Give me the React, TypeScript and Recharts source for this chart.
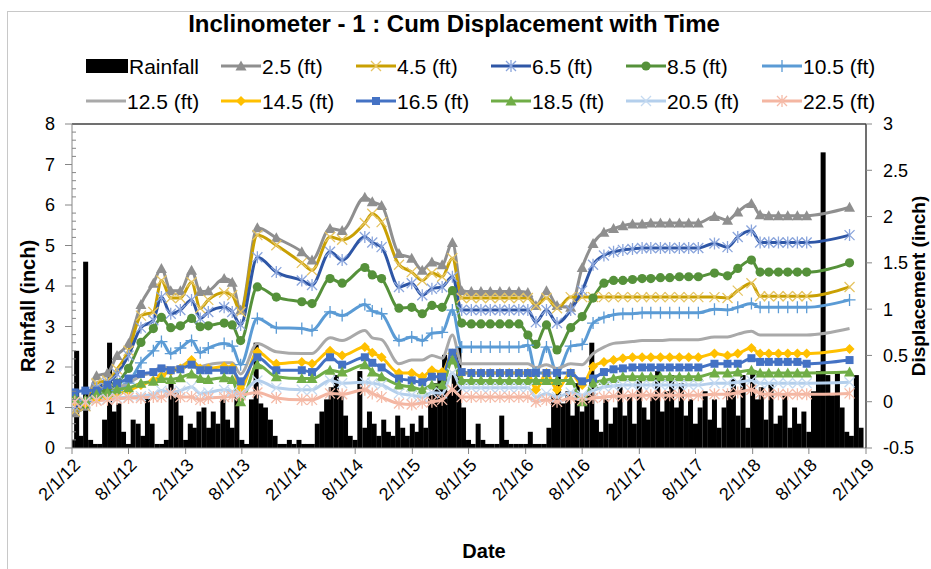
import React from 'react';
import { ComposedChart, Bar, Line, XAxis, YAxis, ReferenceLine } from 'recharts';

const FONT = '"Liberation Sans", Arial, Helvetica, sans-serif';

const tickLabels = ['2/1/12', '8/1/12', '2/1/13', '8/1/13', '2/1/14', '8/1/14', '2/1/15', '8/1/15',
    '2/1/16', '8/1/16', '2/1/17', '8/1/17', '2/1/18', '8/1/18', '2/1/19'];
const leftTicks = [0, 1, 2, 3, 4, 5, 6, 7, 8];
const rightTicks = [-0.5, 0, 0.5, 1, 1.5, 2, 2.5, 3];

// rainfall (inch), read on the 1st and the 16th of every month from 2/1/12
const rainfall = [
    0.2, 2.4, 0.3, 4.6, 0.2, 0.1, 0.1, 0.7, 2.6, 0.9,
    1.1, 0.4, 0.1, 0.7, 0.6, 0.3, 1.3, 0.6, 0.1, 0.1,
    0.2, 1.6, 1.4, 0.8, 0.2, 0.6, 0.5, 0.9, 1.0, 0.5,
    0.9, 0.6, 1.2, 0.7, 0.5, 1.5, 0.2, 0.1, 1.2, 2.6,
    1.1, 1.0, 0.7, 0.3, 0.1, 0.1, 0.2, 0.1, 0.2, 0.1,
    0.1, 0.1, 0.6, 0.9, 1.2, 1.5, 1.8, 1.3, 0.8, 0.3,
    0.2, 1.9, 0.5, 0.9, 0.6, 0.3, 0.7, 0.4, 0.3, 0.8,
    0.5, 0.3, 0.6, 0.4, 0.8, 0.5, 1.3, 1.6, 1.9, 2.3,
    1.4, 1.8, 2.5, 1.0, 0.2, 0.1, 0.6, 0.2, 0.1, 0.1,
    0.1, 0.8, 0.2, 0.1, 0.1, 0.1, 0.1, 0.4, 0.1, 0.1,
    0.1, 0.5, 1.3, 1.8, 1.1, 1.4, 0.8, 1.6, 0.9, 1.3,
    2.6, 0.7, 0.4, 1.2, 0.6, 1.0, 1.5, 0.8, 1.3, 0.6,
    1.7, 1.0, 0.7, 1.3, 1.9, 0.9, 1.4, 1.8, 1.0, 1.6,
    0.8, 1.2, 0.6, 1.0, 1.4, 0.7, 1.2, 0.5, 1.0, 1.4,
    1.7, 0.8, 1.8, 0.5, 1.9, 1.2, 1.5, 0.7, 1.6, 0.6,
    0.8, 1.3, 0.5, 1.0, 0.6, 0.9, 0.4, 1.4, 1.9, 7.3,
    1.8, 1.3, 1.9, 1.0, 0.4, 0.3, 1.8, 0.5,
];

const surveyDates = [
    '2012-02-10', '2012-03-15', '2012-04-20', '2012-05-25', '2012-06-25', '2012-08-01', '2012-09-10', '2012-10-20', '2012-11-15', '2012-12-15',
    '2013-01-15', '2013-02-20', '2013-03-20', '2013-04-15', '2013-06-05', '2013-07-01', '2013-07-28', '2013-09-20', '2013-11-20', '2014-02-10',
    '2014-03-15', '2014-05-12', '2014-06-20', '2014-09-01', '2014-09-25', '2014-10-25', '2014-12-20', '2015-01-30', '2015-03-05', '2015-04-05',
    '2015-05-08', '2015-06-10', '2015-07-10', '2015-08-10', '2015-09-10', '2015-10-10', '2015-11-10', '2015-12-10', '2016-01-10', '2016-02-08',
    '2016-03-05', '2016-04-08', '2016-05-12', '2016-06-25', '2016-08-01', '2016-09-05', '2016-10-10', '2016-11-10', '2016-12-10', '2017-01-10',
    '2017-02-10', '2017-03-10', '2017-04-10', '2017-05-10', '2017-06-10', '2017-07-10', '2017-08-10', '2017-10-01', '2017-11-12', '2017-12-15',
    '2018-01-28', '2018-02-25', '2018-03-25', '2018-04-25', '2018-05-25', '2018-06-25', '2018-07-25', '2018-12-10',
];

// cumulative displacement (inch) per depth
const d2_5 = [
    -0.12, -0.05, 0.28, 0.31, 0.5, 0.63, 1.05, 1.28, 1.44, 1.2,
    1.2, 1.42, 1.19, 1.2, 1.33, 1.29, 0.99, 1.88, 1.77, 1.62,
    1.53, 1.87, 1.85, 2.21, 2.16, 2.12, 1.6, 1.55, 1.42, 1.51,
    1.48, 1.72, 1.2, 1.19, 1.19, 1.19, 1.19, 1.19, 1.19, 1.18,
    1.04, 1.2, 1.04, 1.02, 1.45, 1.71, 1.83, 1.87, 1.9, 1.92,
    1.92, 1.93, 1.93, 1.93, 1.93, 1.93, 1.93, 2.0, 1.96, 2.05,
    2.14, 2.02, 2.01, 2.01, 2.01, 2.01, 2.01, 2.1,
];
const d4_5 = [
    -0.1, -0.05, 0.2, 0.23, 0.35, 0.55, 0.93, 0.97, 1.31, 1.12,
    1.12, 1.29, 1.01, 1.1, 1.18, 1.15, 0.97, 1.8, 1.69, 1.5,
    1.42, 1.78, 1.75, 1.93, 2.03, 1.94, 1.48, 1.4, 1.31, 1.39,
    1.35, 1.55, 1.12, 1.12, 1.12, 1.12, 1.12, 1.12, 1.12, 1.12,
    1.04, 1.12, 1.01, 1.13, 1.13, 1.13, 1.13, 1.13, 1.13, 1.13,
    1.13, 1.13, 1.13, 1.13, 1.13, 1.13, 1.13, 1.13, 1.12, 1.2,
    1.28, 1.14, 1.14, 1.14, 1.14, 1.14, 1.14, 1.24,
];
const d6_5 = [
    -0.05, -0.02, 0.15, 0.2, 0.3, 0.5, 0.8, 0.88, 1.13, 0.95,
    0.99, 1.1, 0.9, 0.97, 1.02, 0.97, 0.83, 1.56, 1.4, 1.31,
    1.26, 1.62, 1.53, 1.78, 1.72, 1.67, 1.24, 1.28, 1.15, 1.22,
    1.24, 1.35, 0.99, 0.99, 0.99, 0.99, 0.99, 0.99, 0.99, 0.99,
    0.86, 0.99, 0.85, 0.99, 1.2, 1.48, 1.58, 1.62, 1.64, 1.65,
    1.66, 1.66, 1.66, 1.66, 1.66, 1.66, 1.66, 1.71, 1.67, 1.78,
    1.85, 1.72, 1.72, 1.72, 1.72, 1.72, 1.72, 1.8,
];
const d8_5 = [
    0.03, -0.03, 0.1, 0.12, 0.2, 0.36, 0.64, 0.79, 0.91, 0.8,
    0.82, 0.9, 0.81, 0.82, 0.85, 0.83, 0.66, 1.24, 1.13, 1.08,
    1.06, 1.33, 1.28, 1.45, 1.37, 1.33, 1.01, 1.02, 0.95, 1.04,
    1.02, 1.2, 0.85, 0.84, 0.84, 0.84, 0.84, 0.84, 0.84, 0.72,
    0.62, 0.83, 0.56, 0.8, 0.92, 1.12, 1.28, 1.31, 1.31, 1.32,
    1.33, 1.33, 1.34, 1.34, 1.35, 1.35, 1.35, 1.39, 1.36, 1.44,
    1.53, 1.4, 1.4, 1.4, 1.4, 1.4, 1.4, 1.5,
];
const d10_5 = [
    0.02, 0.0, 0.05, 0.07, 0.12, 0.2, 0.42, 0.55, 0.65, 0.52,
    0.58, 0.66, 0.53, 0.58, 0.63, 0.6, 0.4, 0.9, 0.8, 0.79,
    0.77, 0.97, 0.93, 1.05, 0.98, 0.95, 0.66, 0.7, 0.66, 0.74,
    0.75, 0.99, 0.59, 0.59, 0.59, 0.59, 0.59, 0.59, 0.59, 0.61,
    0.31, 0.59, 0.31, 0.6, 0.62, 0.85, 0.91, 0.94, 0.95, 0.95,
    0.96, 0.96, 0.96, 0.96, 0.96, 0.96, 0.96, 1.0, 0.99, 1.02,
    1.06, 1.02, 1.02, 1.02, 1.02, 1.02, 1.02, 1.1,
];
const d12_5 = [
    0.0, 0.02, 0.05, 0.1, 0.15, 0.2, 0.28, 0.32, 0.38, 0.36,
    0.38, 0.44, 0.38, 0.4, 0.42, 0.42, 0.3, 0.63, 0.54, 0.52,
    0.52, 0.69, 0.66, 0.77, 0.69, 0.67, 0.41, 0.45, 0.45, 0.5,
    0.47, 0.72, 0.41, 0.41, 0.41, 0.41, 0.41, 0.41, 0.41, 0.41,
    0.37, 0.4, 0.36, 0.41, 0.4, 0.52, 0.59, 0.63, 0.64, 0.65,
    0.66, 0.66, 0.66, 0.67, 0.67, 0.67, 0.67, 0.7, 0.7, 0.73,
    0.76, 0.72, 0.72, 0.72, 0.72, 0.72, 0.72, 0.79,
];
const d14_5 = [
    0.0, -0.02, 0.03, 0.05, 0.08, 0.12, 0.18, 0.23, 0.28, 0.33,
    0.36, 0.45, 0.36, 0.36, 0.38, 0.37, 0.14, 0.54, 0.41, 0.43,
    0.41, 0.55, 0.5, 0.59, 0.53, 0.48, 0.31, 0.31, 0.27, 0.34,
    0.32, 0.52, 0.31, 0.31, 0.31, 0.31, 0.31, 0.31, 0.31, 0.31,
    0.13, 0.31, 0.13, 0.31, 0.18, 0.38, 0.43, 0.45, 0.47, 0.48,
    0.48, 0.48, 0.48, 0.48, 0.48, 0.48, 0.48, 0.52, 0.5, 0.52,
    0.58, 0.52, 0.52, 0.52, 0.52, 0.52, 0.52, 0.57,
];
const d16_5 = [
    0.1, 0.12, 0.12, 0.18, 0.2, 0.25, 0.3, 0.32, 0.36, 0.34,
    0.35, 0.4, 0.34, 0.34, 0.34, 0.34, 0.22, 0.48, 0.34, 0.34,
    0.32, 0.48, 0.4, 0.48, 0.42, 0.37, 0.25, 0.23, 0.21, 0.27,
    0.27, 0.53, 0.32, 0.31, 0.31, 0.31, 0.31, 0.31, 0.31, 0.31,
    0.31, 0.31, 0.31, 0.31, 0.22, 0.25, 0.32, 0.35, 0.36, 0.37,
    0.37, 0.37, 0.37, 0.37, 0.37, 0.37, 0.37, 0.41, 0.41, 0.41,
    0.47, 0.43, 0.43, 0.43, 0.43, 0.43, 0.41, 0.45,
];
const d18_5 = [
    0.03, 0.02, 0.08, 0.1, 0.13, 0.15, 0.2, 0.22, 0.25, 0.24,
    0.26, 0.3, 0.25, 0.24, 0.26, 0.24, 0.0, 0.4, 0.27, 0.25,
    0.25, 0.34, 0.32, 0.4, 0.32, 0.27, 0.18, 0.16, 0.13, 0.18,
    0.18, 0.45, 0.23, 0.23, 0.23, 0.23, 0.23, 0.23, 0.23, 0.23,
    0.23, 0.23, 0.23, 0.23, 0.0, 0.2, 0.23, 0.25, 0.27, 0.27,
    0.27, 0.27, 0.27, 0.27, 0.27, 0.27, 0.27, 0.31, 0.31, 0.32,
    0.34, 0.31, 0.31, 0.31, 0.31, 0.31, 0.31, 0.32,
];
const d20_5 = [
    0.0, 0.0, 0.02, 0.03, 0.04, 0.05, 0.06, 0.08, 0.12, 0.1,
    0.12, 0.16, 0.09, 0.1, 0.13, 0.11, 0.09, 0.23, 0.15, 0.13,
    0.13, 0.23, 0.2, 0.21, 0.2, 0.18, 0.09, 0.07, 0.05, 0.1,
    0.09, 0.31, 0.15, 0.15, 0.15, 0.15, 0.15, 0.15, 0.15, 0.15,
    0.05, 0.09, 0.05, 0.1, 0.07, 0.12, 0.16, 0.17, 0.18, 0.18,
    0.18, 0.18, 0.18, 0.18, 0.18, 0.18, 0.18, 0.2, 0.2, 0.21,
    0.23, 0.2, 0.2, 0.2, 0.2, 0.2, 0.2, 0.21,
];
const d22_5 = [
    0.0, -0.01, 0.01, 0.02, 0.03, 0.04, 0.04, 0.05, 0.05, 0.09,
    0.05, 0.05, 0.02, 0.04, 0.05, 0.06, 0.07, 0.1, 0.04, 0.02,
    0.02, 0.09, 0.08, 0.13, 0.09, 0.05, -0.02, -0.03, -0.01, 0.0,
    0.02, 0.13, 0.05, 0.05, 0.05, 0.05, 0.05, 0.05, 0.05, 0.05,
    0.0, 0.02, 0.0, 0.04, 0.02, 0.04, 0.05, 0.06, 0.06, 0.07,
    0.07, 0.07, 0.07, 0.07, 0.07, 0.07, 0.07, 0.08, 0.08, 0.1,
    0.13, 0.09, 0.08, 0.08, 0.08, 0.08, 0.08, 0.09,
];

type MarkerKind = 'triangle' | 'x' | 'star' | 'circle' | 'plus' | 'diamond' | 'square' | 'none';

const series: { key: string; name: string; values: number[]; color: string; marker: MarkerKind; markerColor: string }[] = [
    { key: 's2_5', name: '2.5 (ft)', values: d2_5, color: '#8F8F8F', marker: 'triangle', markerColor: '#8F8F8F' },
    { key: 's4_5', name: '4.5 (ft)', values: d4_5, color: '#C9A003', marker: 'x', markerColor: '#E6C462' },
    { key: 's6_5', name: '6.5 (ft)', values: d6_5, color: '#2E56A6', marker: 'star', markerColor: '#8AA5DC' },
    { key: 's8_5', name: '8.5 (ft)', values: d8_5, color: '#55913A', marker: 'circle', markerColor: '#55913A' },
    { key: 's10_5', name: '10.5 (ft)', values: d10_5, color: '#5B9BD5', marker: 'plus', markerColor: '#5B9BD5' },
    { key: 's12_5', name: '12.5 (ft)', values: d12_5, color: '#A9A9A9', marker: 'none', markerColor: '#A9A9A9' },
    { key: 's14_5', name: '14.5 (ft)', values: d14_5, color: '#FFC000', marker: 'diamond', markerColor: '#FFC000' },
    { key: 's16_5', name: '16.5 (ft)', values: d16_5, color: '#4472C4', marker: 'square', markerColor: '#4472C4' },
    { key: 's18_5', name: '18.5 (ft)', values: d18_5, color: '#70AD47', marker: 'triangle', markerColor: '#70AD47' },
    { key: 's20_5', name: '20.5 (ft)', values: d20_5, color: '#B4CFEC', marker: 'x', markerColor: '#C5DAF1' },
    { key: 's22_5', name: '22.5 (ft)', values: d22_5, color: '#F4B6A2', marker: 'star', markerColor: '#F5BBA8' },
];

const toTime = (s: string) => {
    const [m, d, y] = s.split('/').map(Number);
    return Date.UTC(2000 + y, m - 1, d);
};
const xTicks = tickLabels.map(toTime);

// bars use the chart data, the lines carry their own survey rows
const rainRows = rainfall.map((rain, k) => ({ t: Date.UTC(2012, 1 + Math.floor(k / 2), k % 2 ? 16 : 1), rain }));
const surveyRows = surveyDates.map((d, i) => {
    const r: any = { t: Date.parse(d) };
    series.forEach((s) => { r[s.key] = s.values[i]; });
    return r;
});

const leftAllTicks = Array.from({ length: 41 }, (_, i) => Math.round(i * 2) / 10);

function Marker({ kind, cx, cy, color }: { kind: MarkerKind; cx: number; cy: number; color: string }) {
    switch (kind) {
        case 'triangle':
            return <polygon points={`${cx},${cy - 5.5} ${cx - 5.5},${cy + 4.5} ${cx + 5.5},${cy + 4.5}`} fill={color} />;
        case 'circle':
            return <circle cx={cx} cy={cy} r={4.6} fill={color} />;
        case 'diamond':
            return <polygon points={`${cx},${cy - 5} ${cx + 5},${cy} ${cx},${cy + 5} ${cx - 5},${cy}`} fill={color} />;
        case 'square':
            return <rect x={cx - 4} y={cy - 4} width={8} height={8} fill={color} />;
        case 'x':
            return <path d={`M${cx - 5},${cy - 5}L${cx + 5},${cy + 5}M${cx - 5},${cy + 5}L${cx + 5},${cy - 5}`} stroke={color} strokeWidth={1.3} fill="none" />;
        case 'star':
            return <path d={`M${cx - 5},${cy - 5}L${cx + 5},${cy + 5}M${cx - 5},${cy + 5}L${cx + 5},${cy - 5}M${cx},${cy - 6}L${cx},${cy + 6}`} stroke={color} strokeWidth={1.3} fill="none" />;
        case 'plus':
            return <path d={`M${cx - 6},${cy}L${cx + 6},${cy}M${cx},${cy - 6}L${cx},${cy + 6}`} stroke={color} strokeWidth={1.3} fill="none" />;
        default:
            return null;
    }
}

// fixed-width rainfall column, centred on the position the bar scale gives
function RainBar(props: any) {
    const { x, y, width, height } = props;
    if (![x, y, width, height].every((v) => Number.isFinite(v))) return <g />;
    const top = height < 0 ? y + height : y;
    return <rect x={x + width / 2 - 2.5} y={top} width={5} height={Math.abs(height)} fill="#000" />;
}

const L_TICK = 7;
const L_MARGIN = 10;

function LeftTick(props: any) {
    const { x, y, payload } = props;
    const v = payload.value;
    const ax = x + L_TICK + L_MARGIN;
    if (Math.abs(v - Math.round(v)) > 1e-6) {
        return <line x1={ax} x2={ax + 4} y1={y} y2={y} stroke="#868686" />;
    }
    return (
        <g>
            <line x1={ax - L_TICK} x2={ax} y1={y} y2={y} stroke="#868686" />
            <text x={x} y={y} textAnchor="end" dominantBaseline="central" fontSize={18} fontFamily={FONT} fill="#000">{v}</text>
        </g>
    );
}

function DateTick(props: any) {
    const { x, y, index } = props;
    const tx = x + 5;
    const ty = y + 6;
    return (
        <text x={tx} y={ty} transform={`rotate(-45 ${tx} ${ty})`} textAnchor="end" dominantBaseline="central"
            fontSize={18} fontFamily={FONT} fill="#000">
            {tickLabels[index]}
        </text>
    );
}

const legendCols = [86, 221, 356, 491, 626, 762];

function LegendItem({ x, y, item }: { x: number; y: number; item: (typeof series)[number] | null }) {
    if (!item) {
        return (
            <g>
                <rect x={x} y={y - 7} width={42} height={14} fill="#000" />
                <text x={x + 43} y={y + 7.5} fontSize={21} fontFamily={FONT} fill="#000">Rainfall</text>
            </g>
        );
    }
    return (
        <g>
            <line x1={x} x2={x + 40} y1={y} y2={y} stroke={item.color} strokeWidth={3} />
            <Marker kind={item.marker} cx={x + 20} cy={y} color={item.markerColor} />
            <text x={x + 41} y={y + 7.5} fontSize={21} fontFamily={FONT} fill="#000">{item.name}</text>
        </g>
    );
}

export default function App() {
    const legendRow1 = [null, ...series.slice(0, 5)];
    const legendRow2 = series.slice(5);
    return (
        <div style={{ position: 'absolute', left: 0, top: 0, width: 931, height: 569, overflow: 'hidden', background: '#fff' }}>
            <div style={{ position: 'absolute', left: 7, top: 11, width: 960, height: 600, border: '1px solid #C8C8C8' }} />
            <div style={{ position: 'absolute', left: 0, top: 0 }}>
                <ComposedChart width={931} height={569} data={rainRows} margin={{ top: 124, right: 0, bottom: 0, left: 8 }}>
                    <XAxis
                        dataKey="t"
                        type="number"
                        domain={[xTicks[0], xTicks[xTicks.length - 1]]}
                        allowDataOverflow
                        ticks={xTicks}
                        interval={0}
                        height={121}
                        tickSize={6}
                        tickMargin={2}
                        stroke="#868686"
                        tick={<DateTick />}
                    />
                    <YAxis
                        yAxisId="left"
                        domain={[0, 8]}
                        ticks={leftAllTicks}
                        interval={0}
                        width={64}
                        tickSize={L_TICK}
                        tickMargin={L_MARGIN}
                        tickLine={false}
                        stroke="#868686"
                        tick={<LeftTick />}
                    />
                    <YAxis
                        yAxisId="right"
                        orientation="right"
                        domain={[-0.5, 3]}
                        ticks={rightTicks}
                        interval={0}
                        width={65}
                        tickSize={6}
                        tickMargin={11}
                        axisLine={{ stroke: '#404040', strokeWidth: 1.5 }}
                        tickLine={{ stroke: '#868686' }}
                        tick={{ fontSize: 18, fill: '#000', fontFamily: FONT }}
                    />
                    <ReferenceLine yAxisId="left" y={leftTicks[leftTicks.length - 1]} stroke="#404040" strokeWidth={1.5} />
                    <Bar yAxisId="left" dataKey="rain" fill="#000" barSize={5} shape={<RainBar />} isAnimationActive={false} />
                    {series.map((s) => (
                        <Line
                            key={s.key}
                            data={surveyRows}
                            yAxisId="right"
                            dataKey={s.key}
                            type="monotone"
                            stroke={s.color}
                            strokeWidth={3}
                            activeDot={false}
                            isAnimationActive={false}
                            dot={s.marker === 'none' ? false : (p: any) => (
                                <g key={`${s.key}-${p.index}`}>
                                    {p.cx == null || p.cy == null || p.value == null ? null : (
                                        <Marker kind={s.marker} cx={p.cx} cy={p.cy} color={s.markerColor} />
                                    )}
                                </g>
                            )}
                        />
                    ))}
                </ComposedChart>
            </div>
            <svg width={931} height={569} style={{ position: 'absolute', left: 0, top: 0, pointerEvents: 'none' }}>
                <text x={454} y={32} textAnchor="middle" fontSize={24} fontWeight="bold" fontFamily={FONT} fill="#000">
                    Inclinometer - 1 : Cum Displacement with Time
                </text>
                {legendRow1.map((item, i) => <LegendItem key={`l1-${i}`} x={legendCols[i]} y={66} item={item} />)}
                {legendRow2.map((item, i) => <LegendItem key={`l2-${i}`} x={legendCols[i]} y={101} item={item} />)}
                <text x={0} y={0} transform="translate(35 306) rotate(-90)" textAnchor="middle" fontSize={20} fontWeight="bold" fontFamily={FONT} fill="#000">
                    Rainfall (inch)
                </text>
                <text x={0} y={0} transform="translate(925 286) rotate(-90)" textAnchor="middle" fontSize={19} fontWeight="bold" fontFamily={FONT} fill="#000">
                    Displacement (inch)
                </text>
                <text x={484} y={558} textAnchor="middle" fontSize={20} fontWeight="bold" fontFamily={FONT} fill="#000">Date</text>
            </svg>
        </div>
    );
}
